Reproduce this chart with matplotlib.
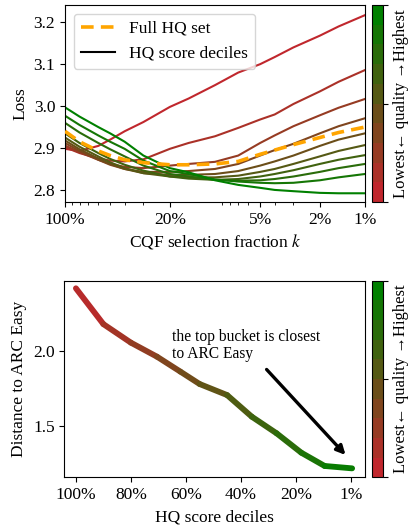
import numpy as np
import matplotlib
matplotlib.use("Agg")
import matplotlib.pyplot as plt
from matplotlib.colors import LinearSegmentedColormap, ListedColormap, Normalize
from matplotlib.collections import LineCollection
from matplotlib.cm import ScalarMappable
from matplotlib.ticker import FixedLocator, NullFormatter, LogLocator

# ---- top panel: loss vs CQF selection fraction k (percent) ----
k_pct = [100, 80, 60, 50, 40, 30, 20, 15, 10, 7, 5, 4, 3, 2, 1.5, 1]

# deciles, lowest quality (d0) to highest (d9)
loss_deciles = [
    [2.898, 2.893, 2.905, 2.920, 2.940, 2.962, 2.998, 3.018, 3.050, 3.080, 3.100, 3.117, 3.140, 3.168, 3.190, 3.217],
    [2.902, 2.888, 2.875, 2.870, 2.868, 2.873, 2.898, 2.912, 2.928, 2.948, 2.968, 2.980, 3.005, 3.035, 3.058, 3.086],
    [2.906, 2.890, 2.872, 2.862, 2.855, 2.852, 2.858, 2.862, 2.867, 2.882, 2.912, 2.930, 2.952, 2.978, 2.996, 3.017],
    [2.912, 2.893, 2.872, 2.860, 2.850, 2.843, 2.843, 2.845, 2.850, 2.862, 2.882, 2.895, 2.910, 2.935, 2.952, 2.971],
    [2.918, 2.897, 2.875, 2.862, 2.850, 2.840, 2.836, 2.836, 2.838, 2.845, 2.858, 2.868, 2.882, 2.905, 2.920, 2.935],
    [2.925, 2.903, 2.880, 2.866, 2.852, 2.840, 2.832, 2.830, 2.830, 2.834, 2.843, 2.850, 2.862, 2.880, 2.893, 2.907],
    [2.935, 2.912, 2.888, 2.874, 2.860, 2.846, 2.832, 2.827, 2.824, 2.826, 2.832, 2.838, 2.847, 2.862, 2.872, 2.883],
    [2.960, 2.937, 2.912, 2.897, 2.880, 2.858, 2.838, 2.832, 2.824, 2.822, 2.823, 2.826, 2.832, 2.843, 2.852, 2.862],
    [2.977, 2.955, 2.930, 2.915, 2.898, 2.870, 2.845, 2.838, 2.825, 2.820, 2.817, 2.816, 2.817, 2.823, 2.830, 2.838],
    [2.997, 2.975, 2.950, 2.935, 2.915, 2.882, 2.852, 2.842, 2.823, 2.812, 2.805, 2.800, 2.797, 2.793, 2.792, 2.792],
]
loss_full_hq = [2.940, 2.915, 2.893, 2.882, 2.872, 2.865, 2.860, 2.860, 2.862, 2.868, 2.885, 2.895, 2.908, 2.925, 2.937, 2.950]

top_ticks = [100, 20, 5, 2, 1]
top_ticklabels = ["100%", "20%", "5%", "2%", "1%"]

# ---- bottom panel: distance to ARC Easy per decile bucket ----
bucket_pos = [0, 1.0, 2.0, 2.95, 3.8, 4.5, 5.5, 6.4, 7.3, 8.2, 9.05, 10.05]
arc_distance = [2.42, 2.18, 2.056, 1.962, 1.862, 1.779, 1.705, 1.56, 1.449, 1.319, 1.23, 1.214]
bottom_ticks = [0, 2, 4, 6, 8, 10]
bottom_ticklabels = ["100%", "80%", "60%", "40%", "20%", "1%"]

plt.rcParams["font.family"] = ["Liberation Serif", "DejaVu Serif"]
plt.rcParams["mathtext.fontset"] = "stix"
plt.rcParams["font.size"] = 12.5

cmap = LinearSegmentedColormap.from_list("rg", ["#c0272d", "#008000"])
cmap10 = ListedColormap([cmap(i / 9) for i in range(10)])
cbar_label = "Lowest\u2190 quality \u2192Highest"

fig = plt.figure(figsize=(4.10, 5.29), dpi=100)

# top
ax1 = fig.add_axes([0.1585, 0.618, 0.7317, 0.3724])
for i, vals in enumerate(loss_deciles):
    ax1.plot(k_pct, vals, color=cmap(i / 9), lw=1.5, zorder=2)
ax1.plot(k_pct, loss_full_hq, color="orange", lw=2.6, ls=(0, (3.5, 2)), zorder=3)
ax1.plot([], [], color="orange", lw=2.6, ls=(0, (3.5, 2)), label="Full HQ set")
ax1.plot([], [], color="black", lw=1.5, label="HQ score deciles")
ax1.set_xscale("log")
ax1.set_xlim(100, 1)
ax1.set_ylim(2.771, 3.241)
ax1.xaxis.set_major_locator(FixedLocator(top_ticks))
ax1.set_xticklabels(top_ticklabels)
ax1.xaxis.set_minor_locator(LogLocator(base=10, subs=np.arange(2, 10)))
ax1.xaxis.set_minor_formatter(NullFormatter())
ax1.set_yticks([2.8, 2.9, 3.0, 3.1, 3.2])
ax1.set_ylabel("Loss", labelpad=4)
ax1.set_xlabel("CQF selection fraction $k$", labelpad=3)
ax1.legend(loc="upper left", fontsize=12.5, handlelength=2.0)

cax1 = fig.add_axes([0.907, 0.618, 0.027, 0.3724])
cb1 = fig.colorbar(ScalarMappable(norm=Normalize(0, 1), cmap=cmap10), cax=cax1)
cb1.set_ticks([0, 0.5, 1])
cb1.set_ticklabels(["", "", ""])
cb1.set_label(cbar_label, labelpad=0, fontsize=12)

# bottom
ax2 = fig.add_axes([0.157, 0.0977, 0.734, 0.3717])
pts = np.column_stack([bucket_pos, arc_distance])
segs = np.stack([pts[:-1], pts[1:]], axis=1)
lc = LineCollection(segs, cmap=cmap, norm=Normalize(0, 10), linewidths=4.2, capstyle="round", joinstyle="round")
lc.set_array((np.array(bucket_pos[:-1]) + np.array(bucket_pos[1:])) / 2)
ax2.add_collection(lc)
ax2.set_xlim(-0.42, 10.53)
ax2.set_ylim(1.154, 2.471)
ax2.set_xticks(bottom_ticks)
ax2.set_xticklabels(bottom_ticklabels)
ax2.set_yticks([1.5, 2.0])
ax2.set_ylabel("Distance to ARC Easy", labelpad=4)
ax2.set_xlabel("HQ score deciles", labelpad=5)
ax2.text(3.5, 1.955, "the top bucket is closest\nto ARC Easy", fontsize=11.2, linespacing=1.05)
ax2.annotate("", xy=(9.88, 1.29), xytext=(6.87, 1.89),
             arrowprops=dict(arrowstyle="-|>", color="black", lw=2.4, mutation_scale=13))

cax2 = fig.add_axes([0.907, 0.0977, 0.027, 0.3717])
cb2 = fig.colorbar(ScalarMappable(norm=Normalize(0, 1), cmap=cmap10), cax=cax2)
cb2.set_ticks([0, 0.5, 1])
cb2.set_ticklabels(["", "", ""])
cb2.set_label(cbar_label, labelpad=0, fontsize=12)

fig.savefig("out.png", dpi=100)
